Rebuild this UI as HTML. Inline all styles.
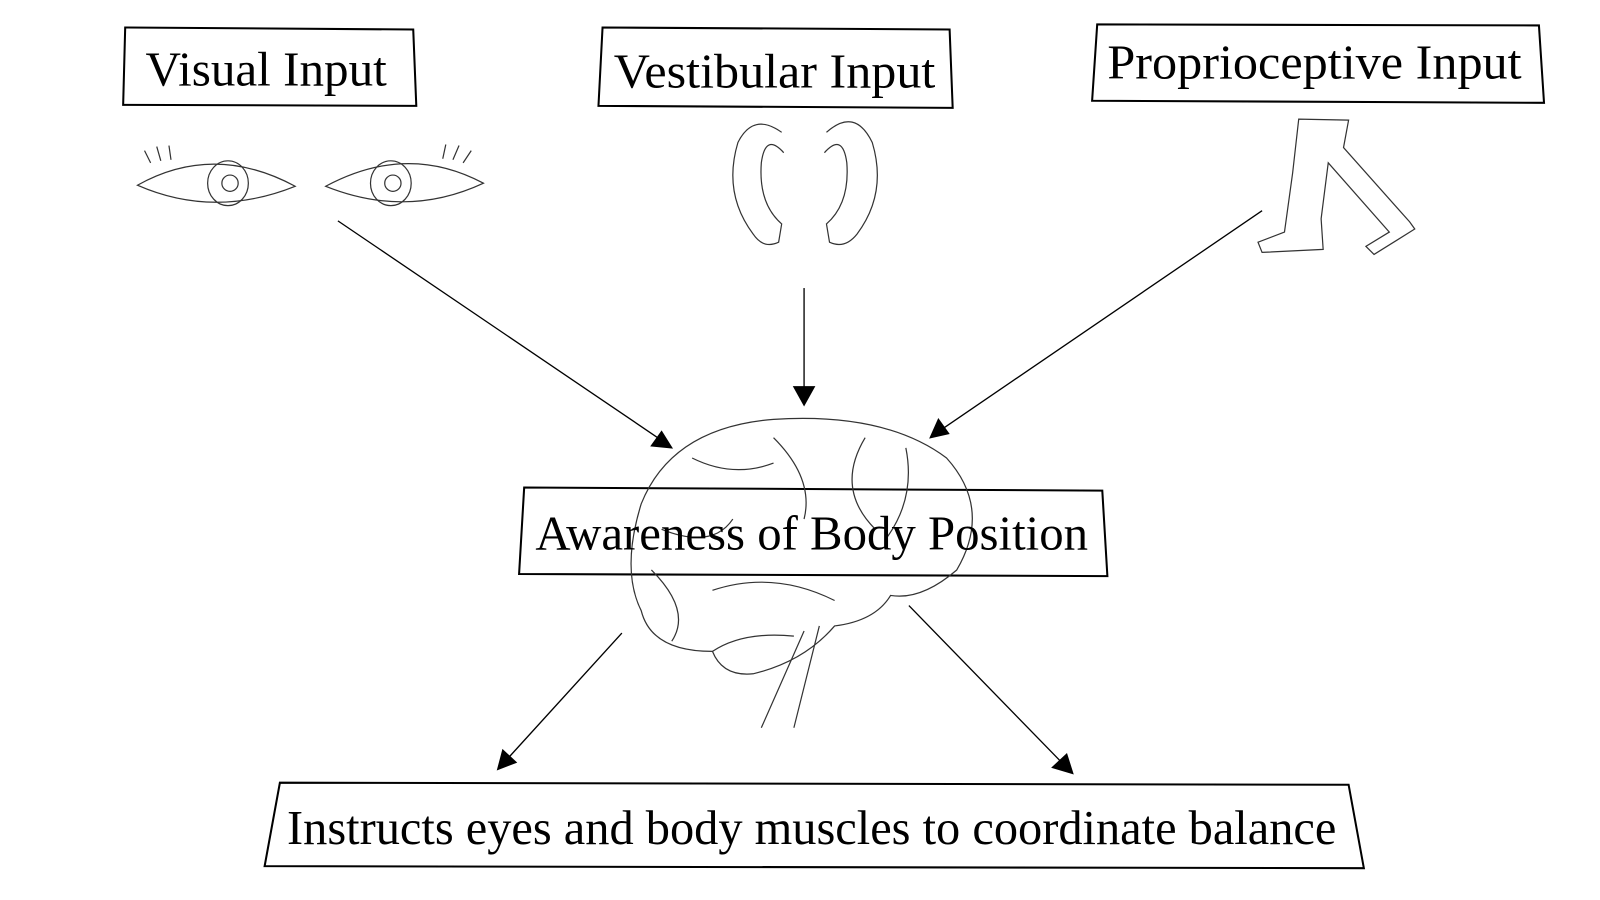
<!DOCTYPE html>
<html><head><meta charset="utf-8"><style>
html,body{margin:0;padding:0;background:#fff;}
svg{display:block;}
text{font-family:"Liberation Serif",serif;fill:#000;}
</style></head><body>
<svg width="1600" height="900" viewBox="0 0 1572 884.25" xmlns="http://www.w3.org/2000/svg">
<g fill="none" stroke="#000" stroke-width="2">
<path d="M123,27 L406,29 L409,104 L121,103 Z"/>
<path d="M592,27 L933,29 L936,106 L588,104 Z"/>
<path d="M1078,24 L1512,25 L1517,101 L1073,99 Z"/>
<path d="M515,479 L1083,482 L1088,566 L510,564 Z"/>
<path d="M275,769 L1325,771 L1340,853 L260,851 Z"/>
</g>
<g stroke="#000" stroke-width="1.3" fill="#000">
<line x1="332" y1="217" x2="655" y2="436"/>
<path d="M660,440 L640,438 L650,424 Z"/>
<line x1="790" y1="283" x2="790" y2="380"/>
<path d="M780,380 L800,380 L790,398 Z"/>
<line x1="1240" y1="207" x2="925" y2="422"/>
<path d="M914,430 L922,412 L932,426 Z"/>
<line x1="611" y1="622" x2="500" y2="744"/>
<path d="M489,756 L494,737 L507,749 Z"/>
<line x1="893" y1="595" x2="1043" y2="749"/>
<path d="M1054,760 L1034,754 L1048,741 Z"/>
</g>
<g fill="none" stroke="#333" stroke-width="1.2">
<path d="M135,182 Q210,140 290,183 Q210,215 135,182 Z"/>
<ellipse cx="224" cy="180" rx="20" ry="22"/>
<circle cx="226" cy="180" r="8"/>
<path d="M148,160 l-6,-12 M158,158 l-4,-14 M168,157 l-2,-14"/>
<path d="M320,183 Q400,140 475,180 Q400,215 320,183 Z"/>
<ellipse cx="384" cy="180" rx="20" ry="22"/>
<circle cx="386" cy="180" r="8"/>
<path d="M455,160 l8,-12 M445,157 l6,-14 M435,156 l3,-14"/>
<path d="M768,130 Q740,110 725,140 Q710,190 740,230 Q750,245 765,238 L768,220 Q745,200 748,160 Q752,130 770,150"/>
<path d="M812,130 Q840,105 857,140 Q872,190 842,230 Q830,245 815,238 L812,220 Q835,200 832,160 Q828,130 810,150"/>
<path d="M1276,117 L1325,118 L1320,145 L1385,218 L1390,225 L1350,250 L1342,242 L1365,228 L1305,160 L1298,215 L1300,245 L1240,248 L1236,238 L1262,228 L1270,170 Z"/>
<path d="M630,495 Q660,420 760,412 Q870,405 930,450 Q975,500 940,560 Q905,590 875,585 Q860,610 820,615 Q790,650 740,662 Q710,665 700,640 Q640,640 630,600 Q610,560 630,495 Z"/>
<path d="M805,615 L780,715 M790,620 L748,715"/>
<path d="M700,640 Q730,620 780,625"/>
<path d="M680,450 Q720,470 760,455 M760,430 Q800,470 790,510 M850,430 Q820,480 860,520 M890,440 Q900,490 870,530 M650,520 Q700,540 720,510 M700,580 Q760,560 820,590 M640,560 Q680,600 660,630"/>
</g>
<text x="143" y="84" font-size="48" textLength="237" lengthAdjust="spacingAndGlyphs">Visual Input</text>
<text x="603" y="86" font-size="48" textLength="316" lengthAdjust="spacingAndGlyphs">Vestibular Input</text>
<text x="1088" y="77" font-size="48" textLength="407" lengthAdjust="spacingAndGlyphs">Proprioceptive Input</text>
<text x="526" y="540" font-size="48" textLength="543" lengthAdjust="spacingAndGlyphs">Awareness of Body Position</text>
<text x="282" y="829" font-size="48" textLength="1031" lengthAdjust="spacingAndGlyphs">Instructs eyes and body muscles to coordinate balance</text>
</svg>
</body></html>
